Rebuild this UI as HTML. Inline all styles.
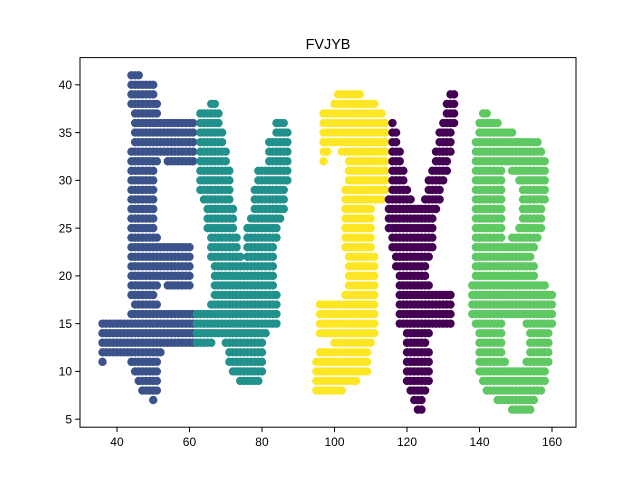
<!DOCTYPE html>
<html><head><meta charset="utf-8"><style>
body{margin:0;background:#fff}
svg{display:block;font-family:"Liberation Sans","DejaVu Sans",sans-serif}
</style></head><body>
<svg id="chart" width="640" height="480">
<rect width="640" height="480" fill="#fff"/>
<g id="marks"></g>
<rect x="80" y="57.6" width="496" height="369.6" fill="none" stroke="#000" stroke-width="1"/>
<g id="xticks"></g>
<g id="yticks"></g>
<text x="328" y="49" text-anchor="middle" font-size="14.4">FVJYB</text>
</svg>
<script>
// Row runs per letter: [y, xStart, xEnd, (xStart2, xEnd2)...]
const rowsF = [[41,44,46],[40,44,50],[39,44,50],[38,44,51],[37,45,51],[36,45,61],[35,45,61],[34,45,61],[33,44,61],[32,44,51,54,61],[31,44,50],[30,44,50],[29,44,50],[28,44,50],[27,44,50],[26,44,50],[25,44,50],[24,44,51],[23,44,60],[22,44,60],[21,44,60],[20,44,60],[19,44,51,54,60],[18,44,50],[17,45,51],[16,44,61],[15,36,61],[14,36,61],[13,36,61],[12,36,52],[11,36,36,44,51],[10,45,51],[9,46,51],[8,47,51],[7,50,50]];
const rowsV = [[38,66,67],[37,63,68],[36,63,68,84,86],[35,63,69,84,87],[34,63,69,82,87],[33,63,70,82,87],[32,63,70,82,87],[31,63,71,79,87],[30,63,71,79,87],[29,63,71,78,86],[28,64,71,78,86],[27,65,72,78,86],[26,65,72,77,85],[25,65,72,76,84],[24,66,73,76,84],[23,66,73,76,83],[22,66,74,76,83],[21,67,74,75,83],[20,67,83],[19,67,83],[18,67,84],[17,66,84],[16,62,84],[15,62,84],[14,62,81],[13,62,66,70,80],[12,71,80],[11,71,80],[10,72,80],[9,74,79]];
const rowsJ = [[39,101,107],[38,100,111],[37,97,113],[36,97,114],[35,97,114],[34,97,114],[33,97,98,102,114],[32,97,97,104,114],[31,104,114],[30,104,114],[29,103,114],[28,103,113],[27,103,110],[26,103,110],[25,103,110],[24,103,110],[23,103,110],[22,104,111],[21,104,111],[20,104,111],[19,104,111],[18,103,111],[17,96,111],[16,96,111],[15,96,111],[14,96,111],[13,100,110],[12,96,109],[11,95,109],[10,95,109],[9,95,106],[8,95,102]];
const rowsY = [[39,132,133],[38,131,133],[37,131,133],[36,116,116,130,133],[35,116,117,129,132],[34,116,117,129,132],[33,116,118,128,132],[32,116,118,128,131],[31,116,119,127,131],[30,116,119,126,130],[29,116,120,126,129],[28,115,121,125,129],[27,115,128],[26,115,127],[25,115,127],[24,116,127],[23,116,127],[22,117,126],[21,117,125],[20,118,125],[19,118,126],[18,118,132],[17,118,132],[16,118,132],[15,118,132],[14,120,126],[13,120,125],[12,120,126],[11,120,126],[10,120,126],[9,120,126],[8,121,125],[7,122,124],[6,123,124]];
const rowsB = [[37,141,142],[36,140,145],[35,140,149],[34,139,156],[33,139,157],[32,139,158],[31,139,146,149,158],[30,139,146,151,158],[29,139,146,152,158],[28,139,146,152,158],[27,139,146,152,157],[26,139,146,152,157],[25,139,146,151,157],[24,139,146,149,156],[23,139,155],[22,139,154],[21,139,155],[20,139,155],[19,138,158],[18,138,160],[17,138,160],[16,138,160],[15,139,146,153,160],[14,140,146,154,159],[13,140,146,154,159],[12,140,146,154,159],[11,140,147,153,159],[10,140,158],[9,141,158],[8,142,157],[7,145,155],[6,149,154]];
const seriesNames = ['F','V','J','Y','B'];
const seriesColors = ['#3b528b','#21918c','#fde725','#440154','#5ec962'];
const xTicks = [40,60,80,100,120,140,160];
const yTicks = [5,10,15,20,25,30,35,40];

const NS='http://www.w3.org/2000/svg';
const L=80,R=576,T=57.6,B=427.2;
const xMin=29.8,xMax=166.62,yMin=4.16,yMax=42.85;
function sx(v){return L+(v-xMin)/(xMax-xMin)*(R-L);}
function sy(v){return B-(v-yMin)/(yMax-yMin)*(B-T);}

const marks=document.getElementById('marks');
[rowsF,rowsV,rowsJ,rowsY,rowsB].forEach((rows,si)=>{
  const g=document.createElementNS(NS,'g');
  
  
  g.setAttribute('fill',seriesColors[si]);
  rows.forEach(r=>{
    const y=r[0];
    for(let k=1;k<r.length;k+=2){
      for(let x=r[k];x<=r[k+1];x++){
        const c=document.createElementNS(NS,'circle');
        c.setAttribute('cx',sx(x).toFixed(2));
        c.setAttribute('cy',sy(y).toFixed(2));
        c.setAttribute('r','4.2');
        
        
        g.appendChild(c);
      }
    }
  });
  marks.appendChild(g);
});

const xg=document.getElementById('xticks');
xTicks.forEach(v=>{
  const x=sx(v);
  const l=document.createElementNS(NS,'line');
  l.setAttribute('x1',x);l.setAttribute('x2',x);l.setAttribute('y1',B);l.setAttribute('y2',B+4.9);
  l.setAttribute('stroke','#000');
  
  
  xg.appendChild(l);
  const t=document.createElementNS(NS,'text');
  t.setAttribute('x',x);t.setAttribute('y',B+19);t.setAttribute('text-anchor','middle');t.setAttribute('font-size','12');
  t.textContent=v;
  
  
  xg.appendChild(t);
});
const yg=document.getElementById('yticks');
yTicks.forEach(v=>{
  const y=sy(v);
  const l=document.createElementNS(NS,'line');
  l.setAttribute('x1',L-4.9);l.setAttribute('x2',L);l.setAttribute('y1',y);l.setAttribute('y2',y);
  l.setAttribute('stroke','#000');
  
  
  yg.appendChild(l);
  const t=document.createElementNS(NS,'text');
  t.setAttribute('x',L-8);t.setAttribute('y',y+4.3);t.setAttribute('text-anchor','end');t.setAttribute('font-size','12');
  t.textContent=v;
  
  
  yg.appendChild(t);
});
</script>
</body></html>
